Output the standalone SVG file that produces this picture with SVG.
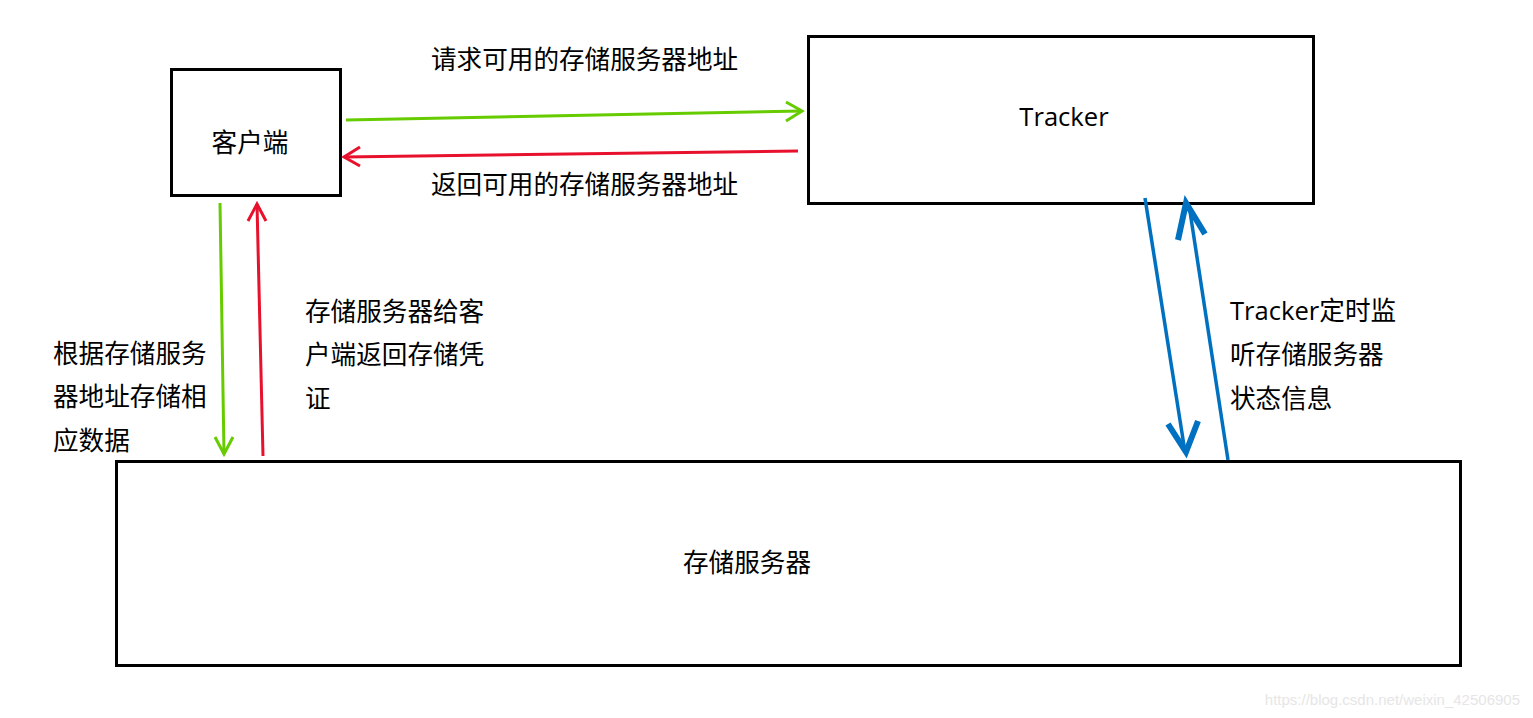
<svg xmlns="http://www.w3.org/2000/svg" width="1533" height="718" viewBox="0 0 1533 718">
<style>
.box{fill:#fff;stroke:#000;stroke-width:3}
.t{font-family:"Open Sans","Noto Sans CJK SC",sans-serif;font-size:25.6px;fill:#000}
.g{stroke:#66cc00;stroke-width:3;fill:none}
.r{stroke:#e8112d;stroke-width:3;fill:none}
.b{stroke:#0070c0;stroke-width:3.5;fill:none}
.bh{stroke:#0070c0;stroke-width:6;fill:none;stroke-linejoin:miter;stroke-miterlimit:10}
</style>
<rect width="1533" height="718" fill="#fff"/>
<g id="client">
<rect class="box" x="171.5" y="69.5" width="169" height="126"/>
<text class="t" x="250" y="152" text-anchor="middle">客户端</text>
</g>
<g id="tracker">
<rect class="box" x="808.5" y="36.5" width="505" height="167"/>
<text class="t" x="1064" y="126" text-anchor="middle">Tracker</text>
</g>
<g id="storage">
<rect class="box" x="116.5" y="461.5" width="1344" height="204"/>
<text class="t" x="747" y="572" text-anchor="middle">存储服务器</text>
</g>
<g id="connectors">
<path class="g" d="M346 120 L802 111"/>
<path class="g" d="M786 102 L802 111 L786 121"/>
<path class="r" d="M798 151 L344 157"/>
<path class="r" d="M360 147 L344 157 L360 166"/>
<path class="g" d="M220 203 L224 454"/>
<path class="g" d="M215 437 L224 454 L233 437"/>
<path class="r" d="M263 456 L257 204"/>
<path class="r" d="M248 221 L257 204 L266 221"/>
<path class="b" d="M1145 198 L1185 452"/>
<path class="bh" d="M1168 424 L1186 452 L1198 421"/>
<path class="b" d="M1228 460 L1189 205"/>
<path class="bh" d="M1178 240 L1186 203 L1205 234"/>
</g>
<g id="labels">
<text class="t" x="431" y="69">请求可用的存储服务器地址</text>
<text class="t" x="431" y="194">返回可用的存储服务器地址</text>
<text class="t" x="53" y="363">根据存储服务</text>
<text class="t" x="53" y="406">器地址存储相</text>
<text class="t" x="53" y="450">应数据</text>
<text class="t" x="305" y="321">存储服务器给客</text>
<text class="t" x="305" y="364">户端返回存储凭</text>
<text class="t" x="305" y="408">证</text>
<text class="t" x="1230" y="320">Tracker定时监</text>
<text class="t" x="1230" y="364">听存储服务器</text>
<text class="t" x="1230" y="408">状态信息</text>
</g>
<text x="1520" y="705" text-anchor="end" font-family="Liberation Sans, sans-serif" font-size="15" fill="#e6e6e6">https://blog.csdn.net/weixin_42506905</text>
</svg>
